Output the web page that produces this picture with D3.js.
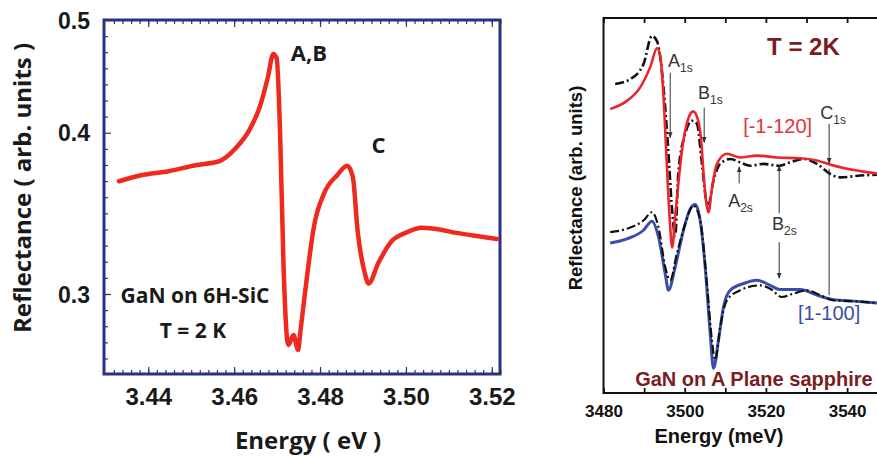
<!DOCTYPE html>
<html>
<head>
<meta charset="utf-8">
<script src="https://cdn.jsdelivr.net/npm/d3@7"></script>
<style>
  body { margin: 0; background: #fff; }
  svg { display: block; }
</style>
</head>
<body>
<div id="chart"></div>
<script>
// ---- left panel: GaN on 6H-SiC (energy in eV, reflectance) ----
const leftEnergy = [3.4332, 3.4383, 3.4447, 3.4510, 3.4565, 3.4604, 3.4636, 3.4660, 3.4679, 3.4691,
    3.4699, 3.4707, 3.4715, 3.4726, 3.4738, 3.4749, 3.4754, 3.4766, 3.4786, 3.4810,
    3.4841, 3.4863, 3.4876, 3.4888, 3.4904, 3.4913, 3.4936, 3.4967, 3.4999, 3.5038,
    3.5078, 3.5117, 3.5157, 3.5212];
const leftRefl = [0.3699, 0.3736, 0.3761, 0.3798, 0.3823, 0.3905, 0.4027, 0.4233, 0.4499, 0.4698,
    0.4661, 0.3998, 0.3174, 0.2684, 0.2746, 0.2653, 0.2761, 0.3029, 0.3421, 0.3627,
    0.3740, 0.3795, 0.3730, 0.3379, 0.3132, 0.3065, 0.3194, 0.3328, 0.3379, 0.3410,
    0.3400, 0.3379, 0.3363, 0.3341];
const leftXTicks = [3.44, 3.46, 3.48, 3.50, 3.52];
const leftYTicks = [0.3, 0.4, 0.5];

// ---- right panel: GaN on A plane sapphire (energy in meV, arb. units) ----
const redE = [3481.65, 3485.76, 3489.04, 3491.50, 3493.23, 3493.97, 3494.70, 3495.44, 3496.26, 3496.92,
    3497.66, 3498.15, 3499.31, 3500.86, 3502.09, 3503.33, 3504.06, 3504.68, 3505.42, 3505.86,
    3506.70, 3507.93, 3510.39, 3513.67, 3517.78, 3522.71, 3528.45, 3532.56, 3535.84, 3539.95,
    3544.88, 3547.41];
const redR = [75.7, 77.9, 81.5, 86.9, 92.0, 89.9, 80.6, 64.6, 47.3, 38.8,
    47.3, 52.7, 64.6, 73.1, 75.1, 72.6, 67.3, 58.0, 50.0, 48.2,
    54.5, 61.1, 63.8, 62.8, 63.3, 62.8, 62.6, 62.0, 60.9, 59.8,
    58.9, 58.5];
const blackTopE = [3482.88, 3486.57, 3489.85, 3491.92, 3493.15, 3494.78, 3496.01, 3496.85, 3497.66, 3498.47,
    3500.12, 3501.77, 3503.00, 3504.24, 3505.30, 3505.79, 3507.09, 3508.74, 3511.21, 3513.67,
    3516.13, 3519.41, 3523.10, 3525.99, 3529.26, 3532.56, 3535.84, 3538.30, 3543.23, 3547.41];
const blackTopR = [82.4, 83.7, 87.7, 95.2, 93.9, 81.5, 63.8, 49.5, 42.0, 59.3,
    69.1, 72.6, 71.8, 61.2, 51.3, 50.0, 56.6, 61.1, 62.4, 61.5,
    60.6, 61.1, 60.6, 61.5, 62.4, 61.1, 58.4, 57.5, 58.0, 58.2];
const blueE = [3481.65, 3485.76, 3489.85, 3491.92, 3493.55, 3495.20, 3496.01, 3497.66, 3499.70, 3501.35,
    3502.59, 3503.82, 3505.05, 3506.28, 3507.09, 3508.33, 3509.56, 3511.21, 3514.48, 3517.78,
    3521.06, 3523.52, 3528.45, 3532.56, 3536.65, 3541.58, 3547.41];
const blueR = [40.0, 41.1, 43.4, 45.8, 41.6, 31.8, 27.4, 33.6, 43.4, 49.1,
    50.3, 46.0, 33.6, 15.9, 6.6, 14.1, 23.0, 27.4, 29.2, 30.1,
    28.7, 27.6, 27.6, 26.1, 24.9, 24.5, 24.0];
const blackLowE = [3481.65, 3485.76, 3489.85, 3491.92, 3493.55, 3495.20, 3496.43, 3498.08, 3500.12, 3502.17,
    3503.82, 3505.47, 3506.70, 3507.51, 3508.74, 3510.39, 3513.67, 3518.60, 3521.06, 3523.94,
    3526.80, 3530.10, 3533.37, 3536.65, 3541.58, 3547.41];
const blackLowR = [42.9, 43.8, 46.0, 48.2, 44.2, 33.6, 30.1, 37.2, 45.1, 50.0,
    46.0, 29.2, 14.1, 8.8, 17.6, 24.7, 27.4, 28.7, 27.8, 25.6,
    26.5, 27.4, 26.1, 24.7, 24.5, 24.0];
const rightXTicks = [3480, 3490, 3500, 3510, 3520, 3530, 3540];

const W = 877, H = 457;
const svg = d3.select("#chart").append("svg")
    .attr("width", W).attr("height", H)
    .style("font-family", "'Open Sans', Lato, sans-serif");

const zip = (xs, ys) => xs.map((x, i) => [x, ys[i]]);

// ================= left panel =================
const navy = "#2b3283";
const ink = "#1a1a1a";
const xL = d3.scaleLinear().domain([3.4297, 3.5219]).range([104, 500]);
// the printed axis is not uniform above 0.4, so the scale is piecewise
const yL = d3.scaleLinear().domain([0.25, 0.3, 0.4, 0.5]).range([374.6, 294, 132.7, 20]);

const gL = svg.append("g");

// minor ticks
const minorX = d3.range(3.432, 3.5221, 0.002);
gL.append("g").attr("transform", "translate(0,374)")
    .call(d3.axisBottom(xL).tickValues(minorX).tickSize(-4).tickFormat(""));
gL.append("g").attr("transform", "translate(0,20)")
    .call(d3.axisTop(xL).tickValues(minorX).tickSize(-4).tickFormat(""));
const minorY = d3.range(0.26, 0.399, 0.01).concat(d3.range(1, 7).map(k => 0.4 + k / 70));
gL.append("g").attr("transform", "translate(104,0)")
    .call(d3.axisLeft(yL).tickValues(minorY).tickSize(-4).tickFormat(""));

// major ticks + labels
gL.append("g").attr("class", "lx").attr("transform", "translate(0,374)")
    .call(d3.axisBottom(xL).tickValues(leftXTicks).tickSize(-7).tickPadding(14).tickFormat(d3.format(".2f")));
gL.append("g").attr("transform", "translate(0,20)")
    .call(d3.axisTop(xL).tickValues(leftXTicks).tickSize(-7).tickFormat(""));
gL.append("g").attr("class", "ly").attr("transform", "translate(104,0)")
    .call(d3.axisLeft(yL).tickValues(leftYTicks).tickSize(-7).tickPadding(14).tickFormat(d3.format(".1f")));

gL.selectAll(".domain").remove();
gL.selectAll(".tick line").attr("stroke", navy).attr("stroke-width", 1.2);
gL.selectAll(".lx text").attr("font-size", 24).attr("font-weight", "bold").attr("fill", ink);
gL.selectAll(".ly text").attr("font-size", 23).attr("font-weight", "bold").attr("fill", ink)
    .attr("dy", "0.36em");

gL.append("rect").attr("x", 104).attr("y", 20).attr("width", 396).attr("height", 354)
    .attr("fill", "none").attr("stroke", navy).attr("stroke-width", 3);

gL.append("path").datum(zip(leftEnergy, leftRefl))
    .attr("fill", "none").attr("stroke", "#f0291f").attr("stroke-width", 4.5)
    .attr("stroke-linejoin", "round").attr("stroke-linecap", "round")
    .attr("d", d3.line().x(d => xL(d[0])).y(d => yL(d[1])).curve(d3.curveMonotoneX));

gL.append("text").attr("transform", "translate(31,188) rotate(-90)")
    .attr("text-anchor", "middle").attr("font-size", 24).attr("font-weight", "bold")
    .attr("fill", ink).text("Reflectance ( arb. units )");
gL.append("text").attr("x", 308).attr("y", 449).attr("text-anchor", "middle")
    .attr("font-size", 24).attr("font-weight", "bold").attr("fill", ink).text("Energy ( eV )");

const leftNotes = [
    {e: 3.4732, r: 0.4707, t: "A,B", size: 22},
    {e: 3.4920, r: 0.3924, t: "C", size: 22},
    {e: 3.4509, r: 0.2994, t: "GaN on 6H-SiC", size: 21, mid: true},
    {e: 3.4504, r: 0.2777, t: "T = 2 K", size: 21, mid: true}
];
gL.selectAll(".note").data(leftNotes).join("text")
    .attr("x", d => xL(d.e)).attr("y", d => yL(d.r)).attr("dy", "0.36em")
    .attr("text-anchor", d => d.mid ? "middle" : "start")
    .attr("font-size", d => d.size).attr("font-weight", "bold").attr("fill", ink)
    .text(d => d.t);

// ================= right panel =================
const xR = d3.scaleLinear().domain([3480, 3550]).range([603.5, 887.7]);
const yR = d3.scaleLinear().domain([0, 100]).range([393, 18]);
const gR = svg.append("g").style("font-family", "'Liberation Sans', Arial, sans-serif");

gR.append("g").attr("class", "rx").attr("transform", "translate(0,393)")
    .call(d3.axisBottom(xR).tickValues(rightXTicks).tickSize(-5).tickPadding(12)
        .tickFormat(d => d % 20 === 0 ? d : ""));
gR.append("g").attr("transform", "translate(0,18)")
    .call(d3.axisTop(xR).tickValues(rightXTicks).tickSize(-5).tickFormat(""));
gR.selectAll(".domain").remove();
gR.selectAll(".tick line").attr("stroke", "#111").attr("stroke-width", 1.8);
gR.selectAll(".rx text").attr("font-size", 17).attr("font-weight", "bold").attr("fill", "#111");

gR.append("rect").attr("x", 603.5).attr("y", 18).attr("width", 284.2).attr("height", 375)
    .attr("fill", "none").attr("stroke", "#111").attr("stroke-width", 2);

const lineR = d3.line().x(d => xR(d[0])).y(d => yR(d[1])).curve(d3.curveMonotoneX);
gR.append("path").datum(zip(blackTopE, blackTopR)).attr("fill", "none")
    .attr("stroke", "#111").attr("stroke-width", 2.6).attr("stroke-dasharray", "9,3,2,3").attr("d", lineR);
gR.append("path").datum(zip(redE, redR)).attr("fill", "none")
    .attr("stroke", "#e8262c").attr("stroke-width", 2.6).attr("d", lineR);
gR.append("path").datum(zip(blueE, blueR)).attr("fill", "none")
    .attr("stroke", "#3a4ea8").attr("stroke-width", 3).attr("d", lineR);
gR.append("path").datum(zip(blackLowE, blackLowR)).attr("fill", "none")
    .attr("stroke", "#111").attr("stroke-width", 2.2).attr("stroke-dasharray", "9,3,2,3").attr("d", lineR);

// arrows
svg.append("defs").append("marker").attr("id", "arr")
    .attr("viewBox", "0 0 10 10").attr("refX", 9).attr("refY", 5)
    .attr("markerWidth", 6).attr("markerHeight", 6).attr("orient", "auto-start-reverse")
    .append("path").attr("d", "M0,1 L10,5 L0,9 Z").attr("fill", "#333");

const arrows = [
    {e: 3496.43, from: 85.4, to: 68.1, head: true},
    {e: 3504.80, from: 76.1, to: 66.8, head: true},
    {e: 3535.57, from: 71.8, to: 61.2, head: true},
    {e: 3535.57, from: 59.8, to: 26.1, head: false},
    {e: 3513.42, from: 55.9, to: 60.3, head: true},
    {e: 3523.27, from: 47.9, to: 60.6, head: true},
    {e: 3523.27, from: 40.2, to: 30.6, head: true}
];
gR.selectAll(".arrow").data(arrows).join("line")
    .attr("x1", d => xR(d.e)).attr("x2", d => xR(d.e))
    .attr("y1", d => yR(d.from)).attr("y2", d => yR(d.to))
    .attr("stroke", "#333").attr("stroke-width", 1)
    .attr("marker-end", d => d.head ? "url(#arr)" : null);

const labels = [
    {e: 3495.9, r: 88.6, main: "A", sub: "1s"},
    {e: 3503.3, r: 80.1, main: "B", sub: "1s"},
    {e: 3533.4, r: 74.7, main: "C", sub: "1s"},
    {e: 3510.7, r: 51.3, main: "A", sub: "2s"},
    {e: 3521.5, r: 45.2, main: "B", sub: "2s"}
];
const lt = gR.selectAll(".lab").data(labels).join("text")
    .attr("x", d => xR(d.e)).attr("y", d => yR(d.r)).attr("dy", "0.36em")
    .attr("font-size", 18).attr("fill", "#333");
lt.append("tspan").text(d => d.main);
lt.append("tspan").attr("font-size", 12).attr("dy", 5).text(d => d.sub);

gR.append("text").attr("x", xR(3514.4)).attr("y", yR(71.3)).attr("dy", "0.36em")
    .attr("font-size", 20).attr("fill", "#e0343c").text("[-1-120]");
gR.append("text").attr("x", xR(3527.9)).attr("y", yR(21.3)).attr("dy", "0.36em")
    .attr("font-size", 20).attr("fill", "#3a4ea8").text("[1-100]");
gR.append("text").attr("x", xR(3520.3)).attr("y", yR(90.2))
    .attr("font-size", 24).attr("font-weight", "bold").attr("fill", "#7a1c22").text("T = 2K");
gR.append("text").attr("x", xR(3487.8)).attr("y", yR(1.9))
    .attr("font-size", 20).attr("font-weight", "bold").attr("fill", "#7a1c22").text("GaN on A Plane sapphire");

gR.append("text").attr("transform", "translate(582,188) rotate(-90)")
    .attr("text-anchor", "middle").attr("font-size", 18.5).attr("font-weight", "bold")
    .attr("fill", "#111").text("Reflectance (arb. units)");
gR.append("text").attr("x", 719).attr("y", 443).attr("text-anchor", "middle")
    .attr("font-size", 20).attr("font-weight", "bold").attr("fill", "#111").text("Energy (meV)");
</script>
</body>
</html>
